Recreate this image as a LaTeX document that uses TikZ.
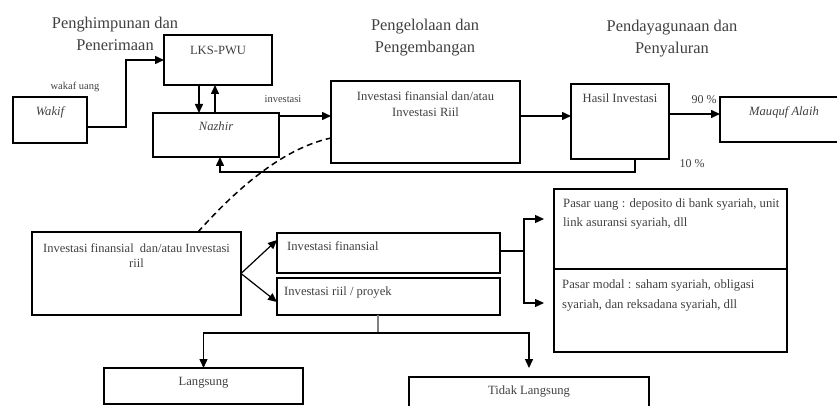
\documentclass[tikz,border=0pt]{standalone}
\usepackage{fontspec}
\setmainfont{Liberation Serif}
\usetikzlibrary{arrows.meta}
\definecolor{inkgray}{gray}{0.25}
\tikzset{box/.style={draw, line width=1.3pt, inner sep=0pt, outer sep=0pt},
% filled heads as in the scan
arr/.style={-{Triangle[length=9pt,width=8pt]}, line width=1.5pt},
boxtext/.style={text=inkgray, font=\fontsize{12.6}{16}\selectfont, inner sep=0pt, align=center, text height=0.7em, text depth=0.2em},
title/.style={text=inkgray, font=\fontsize{16.4}{21.5}\selectfont, inner sep=0pt, align=center},
lbl/.style={text=inkgray, font=\fontsize{10.5}{12}\selectfont, inner sep=0pt}}

\begin{document}
\begin{tikzpicture}[x=1pt, y=-1pt]
\useasboundingbox (0,0) rectangle (837,406);
\clip (0,0) rectangle (837,406);

% stage titles
\node[title] (tgather) at (115,34) {Penghimpunan dan\\Penerimaan};
\node[title] (tmanage) at (425,37.5) {Pengelolaan dan\\Pengembangan};
\node[title] (tdistrib) at (672,38.5) {Pendayagunaan dan\\Penyaluran};

% upper flow
\node[box, minimum width=74, minimum height=46] (wakif) at (50,120) {};
\node[box, minimum width=108, minimum height=50] (lks) at (218,60) {};
\node[box, minimum width=126, minimum height=44] (nazhir) at (216,135) {};
\node[box, minimum width=189, minimum height=82] (invest) at (425.5,122) {};
\node[box, minimum width=98, minimum height=75] (hasil) at (620,121.5) {};
\node[box, minimum width=128, minimum height=45] (mauquf) at (784,119.5) {};

\node[boxtext] (wakiftxt) at ([yshift=-16pt]wakif.north) {\itshape Wakif};
\node[boxtext] (lkstxt) at ([yshift=-17pt]lks.north) {LKS-PWU};
\node[boxtext] (nazhirtxt) at ([yshift=-15pt]nazhir.north) {\itshape Nazhir};
\node[boxtext, text height=, text depth=] (investtxt) at ([yshift=-23pt]invest.north) {Investasi finansial dan/atau\\Investasi Riil};
\node[boxtext] (hasiltxt) at ([yshift=-16pt]hasil.north) {Hasil Investasi};
\node[boxtext] (mauquftxt) at ([yshift=-16pt]mauquf.north) {\itshape Mauquf Alaih};

% lower breakdown
\node[box, minimum width=209, minimum height=83] (invriil) at (136.5,273.5) {};
\node[box, minimum width=223, minimum height=40] (fin) at (388.5,253) {};
\node[box, minimum width=223, minimum height=37] (riil) at (388.5,296.5) {};
\node[box, minimum width=233, minimum height=80] (pasaruang) at (670.5,229) {};
\node[box, minimum width=233, minimum height=83] (pasarmodal) at (670.5,310.5) {};
\node[box, minimum width=199, minimum height=36] (langsung) at (203.5,386) {};
\node[box, minimum width=240, minimum height=42] (tidak) at (529,398) {};

\node[boxtext, text height=, text depth=, font=\fontsize{12.5}{15}\selectfont] (invriiltxt) at ([yshift=-23.5pt]invriil.north) {Investasi finansial\ \ dan/atau Investasi\\riil};
\node[boxtext, anchor=west] (fintxt) at ([xshift=10pt, yshift=-15pt]fin.north west) {Investasi finansial};
\node[boxtext, anchor=west] (riiltxt) at ([xshift=7pt, yshift=-15pt]riil.north west) {Investasi riil / proyek};
\node[boxtext, text height=, text depth=, anchor=west, align=left, font=\fontsize{12.7}{18.5}\selectfont] (uangtxt) at ([xshift=9pt, yshift=-25pt]pasaruang.north west) {Pasar uang : deposito di bank syariah, unit\\link asuransi syariah, dll};
\node[boxtext, text height=, text depth=, anchor=west, align=left, font=\fontsize{12.7}{20.5}\selectfont] (modaltxt) at ([xshift=8pt, yshift=-26.5pt]pasarmodal.north west) {Pasar modal : saham syariah, obligasi\\syariah, dan reksadana syariah, dll};
\node[boxtext] (langsungtxt) at ([yshift=-15pt]langsung.north) {Langsung};
\node[boxtext] (tidaktxt) at ([yshift=-15pt]tidak.north) {Tidak\ Langsung};

% labels on the arrows
\node[lbl] (wakaf) at (75,87) {wakaf uang};
\node[lbl] (invlbl) at (283,99) {investasi};
\node[lbl, font=\fontsize{12}{14}\selectfont] (p90) at (704,100) {90 \%};
\node[lbl, font=\fontsize{12}{14}\selectfont] (p10) at (692,164) {10 \%};

% connectors, upper flow
\draw[arr] ([yshift=-7pt]wakif.east) -- ++(39,0) |- (lks.west);
\draw[arr] ([xshift=-19pt]lks.south) -- ([xshift=-19pt]lks.south |- nazhir.north);
\draw[arr] ([xshift=-3pt]lks.south |- nazhir.north) -- ([xshift=-3pt]lks.south);
\draw[arr] ([yshift=19pt]nazhir.east) -- ([yshift=19pt]nazhir.east -| invest.west);
\draw[arr] ([yshift=6pt]invest.east) -- ([yshift=6pt]invest.east -| hasil.west);
\draw[arr] ([yshift=7.5pt]hasil.east) -- ([yshift=7.5pt]hasil.east -| mauquf.west);
\draw[arr] ([xshift=15pt]hasil.south) -- ++(0,13) -| ([xshift=4pt]nazhir.south);

% dashed link to the detail
\draw[line width=1.5pt, dash pattern=on 6pt off 4pt] ([xshift=61.5pt]invriil.north) .. controls (240,185) and (285,148) .. ([yshift=-16pt]invest.west);

% connectors, lower breakdown
\draw[arr, line width=1.2pt] (invriil.east) -- ([yshift=13pt]fin.west);
\draw[arr, line width=1.2pt] (invriil.east) -- ([yshift=-5.5pt]riil.west);
\coordinate (fork) at ([xshift=24pt, yshift=2pt]fin.east);
\draw[line width=1.3pt] ([yshift=2pt]fin.east) -- (fork);
\draw[arr, line width=1.3pt] (fork) |- ([xshift=-10pt, yshift=10pt]pasaruang.west);
\draw[arr, line width=1.3pt] (fork) |- ([xshift=-10pt, yshift=7.5pt]pasarmodal.west);
\draw[gray, line width=1.3pt] ([xshift=-10.5pt]riil.south) -- ++(0,18) coordinate (branch);
\draw[arr] (branch) -| (langsung.north);
\draw[arr, shorten >=9pt] (branch) -| (tidak.north);
\end{tikzpicture}
\end{document}
